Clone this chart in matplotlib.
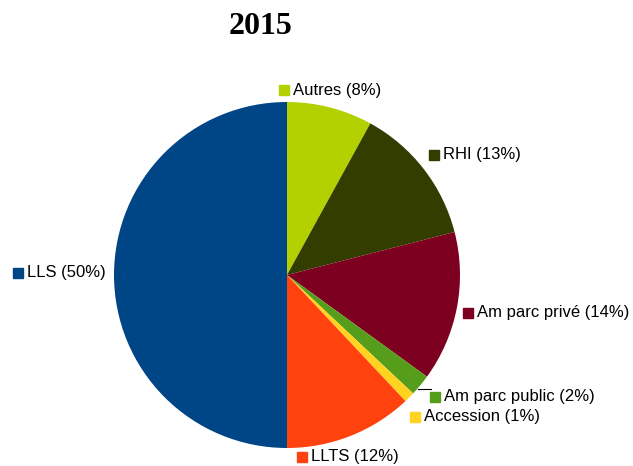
import matplotlib.pyplot as plt

# data
labels = ["Autres", "RHI", "Am parc privé", "Am parc public", "Accession", "LLTS", "LLS"]
shares = [8, 13, 14, 2, 1, 12, 50]
colors = ["#b3d000", "#333d00", "#7e0021", "#579d1c", "#ffd320", "#ff420e", "#004586"]

# label anchor positions (pixel layout, y from top)
label_pos = [(284, 90), (434, 155), (468, 313), (435, 397), (415, 417), (302, 457), (18, 273)]

W, H = 633, 466
fig = plt.figure(figsize=(W / 100, H / 100), dpi=100)
ax = fig.add_axes([0, 0, 1, 1])

cx, cy, r = 287, H - 275, 173
ax.pie(shares, colors=colors, startangle=90, counterclock=False,
       center=(cx, cy), radius=r, frame=True,
       wedgeprops={"linewidth": 0})
ax.set_xlim(0, W)
ax.set_ylim(0, H)
ax.set_aspect("equal")
ax.set_axis_off()

for lab, val, col, (x, y) in zip(labels, shares, colors, label_pos):
    ax.plot(x, H - y, marker="s", markersize=7, color=col, linestyle="none")
    ax.text(x + 9, H - y, f"{lab} ({val}%)", fontsize=12, family="Liberation Sans",
            va="center", ha="left", color="#000000")

# leader line for the small slice
ax.plot([418, 431], [H - 389, H - 389], color="black", linewidth=0.8)

ax.text(261, H - 27, "2015", fontsize=23, fontweight="bold", family="Liberation Serif",
        ha="center", va="center")

fig.savefig("out.png", dpi=100)
